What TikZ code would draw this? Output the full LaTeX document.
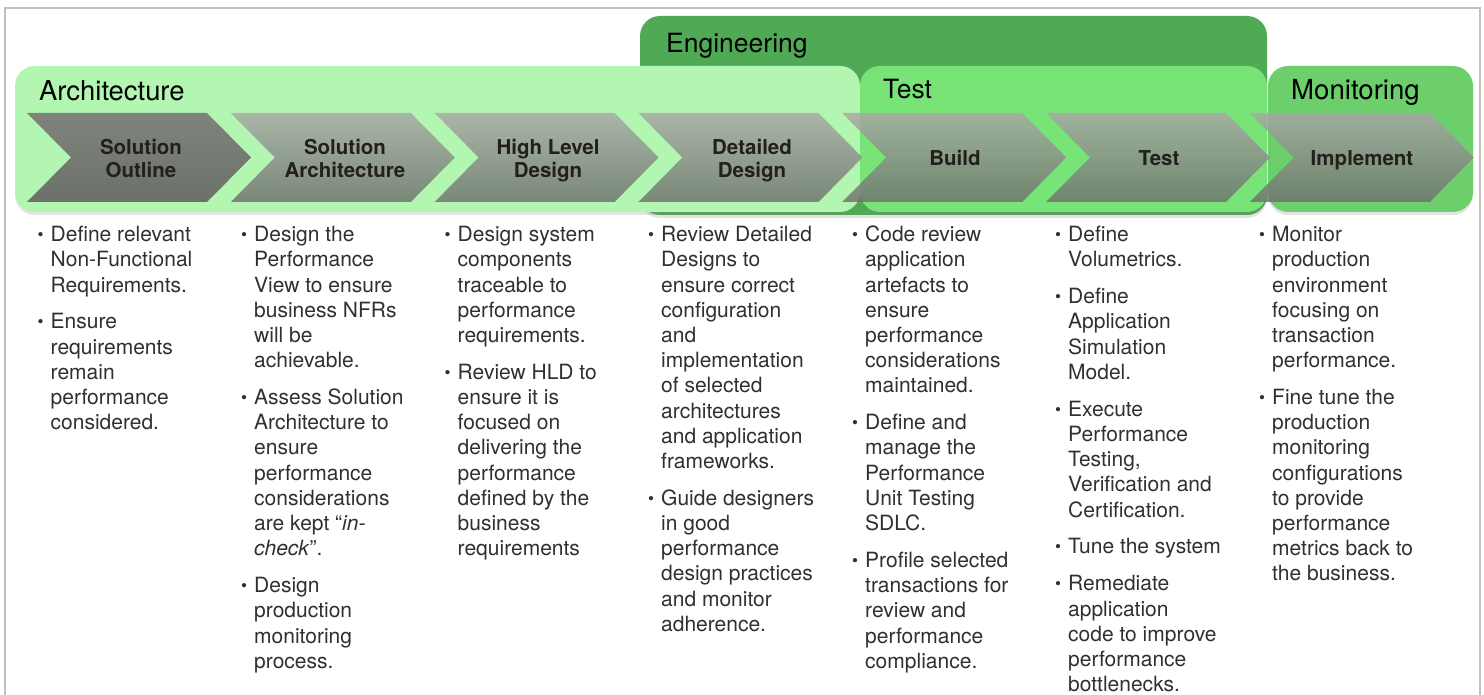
\documentclass[tikz,border=0pt]{standalone}
\usepackage{fontspec}
\setmainfont{TeX Gyre Heros}
\usetikzlibrary{shadows}
\definecolor{archC}{RGB}{178,246,178}
\definecolor{engC}{RGB}{80,170,85}
\definecolor{testC}{RGB}{120,228,120}
\definecolor{monC}{RGB}{108,207,108}
\definecolor{frameC}{RGB}{192,192,192}
\definecolor{textC}{RGB}{48,48,48}
\definecolor{labelC}{RGB}{35,31,28}
\definecolor{chevTop}{RGB}{168,168,166}
\definecolor{chevBot}{RGB}{110,112,108}
\definecolor{firstTop}{RGB}{124,126,122}
\definecolor{firstBot}{RGB}{104,106,102}
\setlength{\parskip}{0pt}
\newcommand\bmark{\makebox[13pt][l]{\raisebox{1pt}{\fontsize{17}{17}\selectfont\textbullet}}}
\newcommand\bfirst[1]{\noindent\hangindent=13pt\hangafter=1\bmark\rule{0pt}{16pt}#1\par}
\newcommand\bnext[1]{\par\vskip11.7pt\noindent\hangindent=13pt\hangafter=1\bmark\rule{0pt}{16pt}#1\par}
\newcommand\colbox[1]{\parbox[t]{235pt}{\raggedright\parskip=0pt\parindent=0pt\def\\{\unskip\nobreak\hfil\break}#1}}
\begin{document}
\begin{tikzpicture}[x=1pt,y=-1pt,
  phasebox/.style={rounded corners=20pt, drop shadow={shadow xshift=0pt, shadow yshift=-3pt, opacity=0.22}},
  chev/.style={shade, top color=chevTop, bottom color=chevBot, fill opacity=0.82},
  chevfirst/.style={shade, top color=firstTop, bottom color=firstBot, fill opacity=0.95},
  ttl/.style={anchor=base west, inner sep=0pt, font=\fontsize{26.5}{30}\selectfont, text=black},
  lab/.style={anchor=north, inner sep=0pt, align=center, font=\fontsize{20.5}{22.5}\selectfont\bfseries, text=labelC},
  col/.style={anchor=north west, inner sep=0pt, text=textC, font=\fontsize{21}{25.2}\selectfont}
]
\useasboundingbox (0,0) rectangle (1484,695);
\fill[white] (0,0) rectangle (1484,695);
\draw[frameC, line width=1.5pt] (5,8) rectangle (1480,730);

% phase boxes
\path[phasebox, fill=engC] (640,16) rectangle (1267,215);
\path[phasebox, fill=archC] (15,66) rectangle (860,212);
\path[phasebox, fill=testC] (860,66) rectangle (1267,212);
\path[phasebox, fill=monC] (1268,66) rectangle (1473,212);

% titles
\node[ttl, font=\fontsize{27.4}{30}\selectfont] (tArch) at (39,101) {Architecture};
\node[ttl] (tEng) at (666,53) {Engineering};
\node[ttl] (tTest) at (883,99) {Test};
\node[ttl, font=\fontsize{27.6}{30}\selectfont] (tMon) at (1291,100) {Monitoring};

% chevrons
\path[chevfirst] (27,113) -- ++(180,0) -- ++(44,44.5) -- ++(-44,44.5) -- ++(-180,0) -- ++(44,-44.5) -- cycle;
\foreach \i in {1,...,6}{
  \pgfmathsetmacro\L{27+203.8*\i}
  \path[chev] (\L,113) -- ++(180,0) -- ++(44,44.5) -- ++(-44,44.5) -- ++(-180,0) -- ++(44,-44.5) -- cycle;
}

% chevron labels
\node[lab] (lSO) at (141,139) {\rule{0pt}{15.5pt}Solution\\Outline};
\node[lab] (lSA) at (345,139) {\rule{0pt}{15.5pt}Solution\\Architecture};
\node[lab] (lHLD) at (548,139) {\rule{0pt}{15.5pt}High Level\\Design};
\node[lab] (lDD) at (752,139) {\rule{0pt}{15.5pt}Detailed\\Design};
\node[lab] (lB) at (955,149.5) {\rule{0pt}{15.5pt}Build};
\node[lab] (lT) at (1159,149.5) {\rule{0pt}{15.5pt}Test};
\node[lab] (lI) at (1362,149.5) {\rule{0pt}{15.5pt}Implement};

% text columns
\node[col] (c1) at (37.5,225.5) {\colbox{%
\bfirst{Define relevant\\Non-Functional\\Requirements.}
\bnext{Ensure\\requirements\\remain\\performance\\considered.}}};

\node[col] (c2) at (241,225.5) {\colbox{%
\bfirst{Design the\\Performance\\View to ensure\\business NFRs\\will be\\achievable.}
\bnext{Assess Solution\\Architecture to\\ensure\\performance\\considerations\\are kept “\textit{in-}\\\textit{check}”.}
\bnext{Design\\production\\monitoring\\process.}}};

\node[col] (c3) at (444.5,225.5) {\colbox{%
\bfirst{Design system\\components\\traceable to\\performance\\requirements.}
\bnext{Review HLD to\\ensure it is\\focused on\\delivering the\\performance\\defined by the\\business\\requirements}}};

\node[col] (c4) at (648,225.5) {\colbox{%
\bfirst{Review Detailed\\Designs to\\ensure correct\\configuration\\and\\implementation\\of selected\\architectures\\and application\\frameworks.}
\bnext{Guide designers\\in good\\performance\\design practices\\and monitor\\adherence.}}};

\node[col] (c5) at (852,225.5) {\colbox{%
\bfirst{Code review\\application\\artefacts to\\ensure\\performance\\considerations\\maintained.}
\bnext{Define and\\manage the\\Performance\\Unit Testing\\SDLC.}
\bnext{Profile selected\\transactions for\\review and\\performance\\compliance.}}};

\node[col] (c6) at (1055,225.5) {\colbox{%
\bfirst{Define\\Volumetrics.}
\bnext{Define\\Application\\Simulation\\Model.}
\bnext{Execute\\Performance\\Testing,\\Verification and\\Certification.}
\bnext{Tune the system}
\bnext{Remediate\\application\\code to improve\\performance\\bottlenecks.}}};

\node[col] (c7) at (1259,225.5) {\colbox{%
\bfirst{Monitor\\production\\environment\\focusing on\\transaction\\performance.}
\bnext{Fine tune the\\production\\monitoring\\configurations\\to provide\\performance\\metrics back to\\the business.}}};
\end{tikzpicture}
\end{document}
